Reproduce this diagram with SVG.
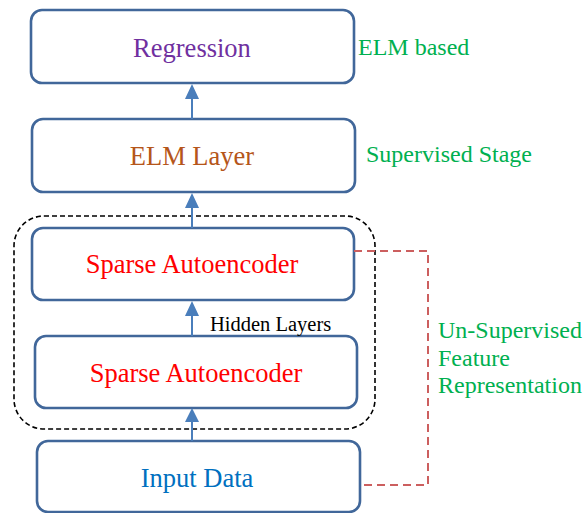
<svg xmlns="http://www.w3.org/2000/svg" width="587" height="513" viewBox="0 0 587 513">
  <style>
    .node rect { fill: #ffffff; stroke: #41679a; stroke-width: 2.6; }
    .label { font-family: "Liberation Serif", "Times New Roman", serif; font-size: 26.5px; text-anchor: middle; }
    .note { font-family: "Liberation Serif", "Times New Roman", serif; font-size: 24px; fill: #00b050; }
    .flow { stroke: #4a7ebb; stroke-width: 2; fill: none; }
    .head { fill: #4a7ebb; }
  </style>
  <rect width="587" height="513" fill="#ffffff"/>

  <!-- hidden-layer grouping -->
  <rect id="hidden-group" x="14" y="216" width="361" height="213" rx="30" fill="none" stroke="#000000" stroke-width="1.6" stroke-dasharray="5 3"/>

  <g id="regression" class="node">
    <rect x="31" y="10" width="323" height="73" rx="11"/>
    <text class="label" x="192" y="57" fill="#7030a0">Regression</text>
  </g>
  <g id="elm-layer" class="node">
    <rect x="32" y="119" width="323" height="73" rx="11"/>
    <text class="label" x="192" y="165" fill="#b5561a">ELM Layer</text>
  </g>
  <g id="sparse-ae-2" class="node">
    <rect x="32" y="228" width="322" height="72" rx="11"/>
    <text class="label" x="192" y="273" fill="#ff0000">Sparse Autoencoder</text>
  </g>
  <g id="sparse-ae-1" class="node">
    <rect x="35" y="336" width="322" height="72" rx="11"/>
    <text class="label" x="196" y="382" fill="#ff0000">Sparse Autoencoder</text>
  </g>
  <g id="input-data" class="node">
    <rect x="37" y="441" width="323" height="71" rx="11"/>
    <text class="label" x="197" y="487" fill="#0070c0">Input Data</text>
  </g>

  <g id="connectors">
    <line class="flow" x1="192" y1="119" x2="192" y2="98"/>
    <polygon class="head" points="192,84 185,99 199,99"/>
    <line class="flow" x1="192" y1="228" x2="192" y2="207"/>
    <polygon class="head" points="192,193 185,208 199,208"/>
    <line class="flow" x1="192" y1="336" x2="192" y2="314"/>
    <polygon class="head" points="192,301 185,316 199,316"/>
    <line class="flow" x1="192" y1="441" x2="192" y2="421"/>
    <polygon class="head" points="192,408 185,422 199,422"/>
    <polyline points="354,251 428,251 428,485 364,485" fill="none" stroke="#cc5f5f" stroke-width="2" stroke-dasharray="8 5"/>
  </g>

  <g id="annotations">
    <text class="note" x="358" y="55">ELM based</text>
    <text class="note" x="366" y="162">Supervised Stage</text>
    <text x="210" y="331" font-family="Liberation Serif, Times New Roman, serif" font-size="20.5" fill="#000000">Hidden Layers</text>
    <text class="note" x="438" y="338">Un-Supervised</text>
    <text class="note" x="438" y="366">Feature</text>
    <text class="note" x="438" y="393">Representation</text>
  </g>
</svg>
